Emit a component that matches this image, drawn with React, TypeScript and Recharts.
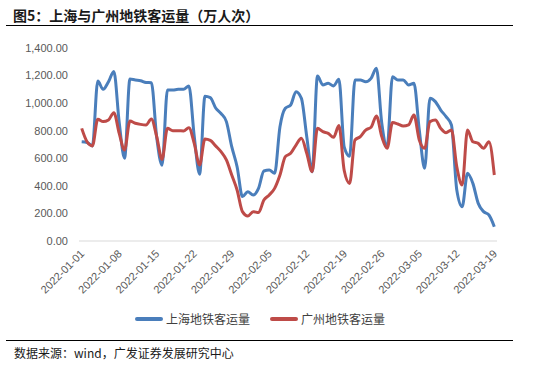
import React from 'react';
import { LineChart, Line, XAxis, YAxis } from 'recharts';

const dates = [
  '2022-01-01', '2022-01-02', '2022-01-03', '2022-01-04', '2022-01-05', '2022-01-06', '2022-01-07',
  '2022-01-08', '2022-01-09', '2022-01-10', '2022-01-11', '2022-01-12', '2022-01-13', '2022-01-14',
  '2022-01-15', '2022-01-16', '2022-01-17', '2022-01-18', '2022-01-19', '2022-01-20', '2022-01-21',
  '2022-01-22', '2022-01-23', '2022-01-24', '2022-01-25', '2022-01-26', '2022-01-27', '2022-01-28',
  '2022-01-29', '2022-01-30', '2022-01-31', '2022-02-01', '2022-02-02', '2022-02-03', '2022-02-04',
  '2022-02-05', '2022-02-06', '2022-02-07', '2022-02-08', '2022-02-09', '2022-02-10', '2022-02-11',
  '2022-02-12', '2022-02-13', '2022-02-14', '2022-02-15', '2022-02-16', '2022-02-17', '2022-02-18',
  '2022-02-19', '2022-02-20', '2022-02-21', '2022-02-22', '2022-02-23', '2022-02-24', '2022-02-25',
  '2022-02-26', '2022-02-27', '2022-02-28', '2022-03-01', '2022-03-02', '2022-03-03', '2022-03-04',
  '2022-03-05', '2022-03-06', '2022-03-07', '2022-03-08', '2022-03-09', '2022-03-10', '2022-03-11',
  '2022-03-12', '2022-03-13', '2022-03-14', '2022-03-15', '2022-03-16', '2022-03-17', '2022-03-18',
  '2022-03-19',
];

// 上海地铁客运量（万人次）
const shanghai = [
  720, 715, 690, 1160, 1100, 1155, 1230,
  860, 600, 1175, 1168, 1163, 1150, 1148,
  750, 550, 1095, 1095, 1100, 1100, 1125,
  760, 485, 1050, 1040, 965, 925, 866,
  684, 539, 322, 358, 334, 382, 508,
  515, 491, 829, 963, 987, 1083, 1035,
  757, 503, 1197, 1132, 1144, 1125, 1173,
  680, 615, 1168, 1168, 1156, 1180, 1253,
  854, 684, 1192, 1168, 1168, 1132, 1144,
  805, 527, 1035, 1011, 950, 902, 842,
  370, 249, 491, 418, 273, 213, 189,
  104,
];

// 广州地铁客运量（万人次）
const guangzhou = [
  817, 720, 690, 883, 866, 878, 931,
  781, 660, 870, 854, 846, 842, 885,
  757, 592, 817, 800, 800, 798, 822,
  708, 551, 740, 730, 690, 648, 588,
  479, 370, 213, 181, 213, 206, 297,
  334, 382, 479, 612, 636, 696, 745,
  636, 503, 817, 793, 781, 752, 837,
  510, 418, 733, 757, 805, 825, 907,
  757, 672, 859, 849, 834, 842, 914,
  733, 672, 866, 878, 817, 786, 805,
  539, 406, 805, 720, 708, 672, 720,
  479,
];

const tickDates = [
  '2022-01-01', '2022-01-08', '2022-01-15', '2022-01-22', '2022-01-29', '2022-02-05',
  '2022-02-12', '2022-02-19', '2022-02-26', '2022-03-05', '2022-03-12', '2022-03-19',
];
const yTicks = [0, 200, 400, 600, 800, 1000, 1200, 1400];

const data = dates.map((d, i) => ({ date: d, sh: shanghai[i], gz: guangzhou[i] }));

const BLUE = '#4A7EBB';
const RED = '#BE4B48';
const NUM_FONT = '"Liberation Sans", Arial, sans-serif';
const CJK_FONT = '"Noto Sans CJK SC", sans-serif';

const DateTick = ({ x, y, payload }: any) => (
  <g transform={`translate(${x - 2},${y})`}>
    <text
      x={0}
      y={0}
      dy="0.7em"
      textAnchor="end"
      transform="rotate(-45)"
      fill="#595959"
      fontSize={11}
      fontFamily={NUM_FONT}
    >
      {payload.value}
    </text>
  </g>
);

const fmt = (v: number) =>
  v.toLocaleString('en-US', { minimumFractionDigits: 2, maximumFractionDigits: 2 });

const LegendItem = ({ color, label, left }: { color: string; label: string; left: number }) => (
  <div style={{ position: 'absolute', left, top: 310, display: 'flex', alignItems: 'center' }}>
    <div style={{ width: 28, height: 4, background: color, borderRadius: 2, marginRight: 3 }} />
    <span style={{ fontSize: 12, fontFamily: CJK_FONT, color: '#404040' }}>{label}</span>
  </div>
);

export default function App() {
  return (
    <div
      style={{
        position: 'absolute',
        left: 0,
        top: 0,
        width: 535,
        height: 380,
        background: '#fff',
        overflow: 'hidden',
      }}
    >
      <div
        style={{
          position: 'absolute',
          left: 13,
          top: 5,
          fontSize: 14,
          fontWeight: 'bold',
          fontFamily: CJK_FONT,
          color: '#1a1a1a',
          whiteSpace: 'nowrap',
        }}
      >
        图5：上海与广州地铁客运量（万人次）
      </div>
      <div style={{ position: 'absolute', left: 6, top: 25, width: 507, height: 1, background: '#000' }} />

      <div style={{ position: 'absolute', left: 0, top: 0 }}>
        <LineChart
          width={535}
          height={380}
          data={data}
          margin={{ top: 48, right: 38, bottom: 79, left: 19 }}
        >
          <XAxis
            dataKey="date"
            ticks={tickDates}
            interval={0}
            tick={<DateTick />}
            tickLine={false}
            axisLine={{ stroke: '#D9D9D9' }}
            padding={{ left: 2.7, right: 2.7 }}
            height={60}
          />
          <YAxis
            width={60}
            domain={[0, 1400]}
            ticks={yTicks}
            tickFormatter={fmt}
            axisLine={false}
            tickLine={false}
            tickMargin={5}
            tick={{ fill: '#595959', fontSize: 11, fontFamily: NUM_FONT }}
          />
          <Line
            type="monotone"
            dataKey="sh"
            stroke={BLUE}
            strokeWidth={3}
            dot={false}
            isAnimationActive={false}
          />
          <Line
            type="monotone"
            dataKey="gz"
            stroke={RED}
            strokeWidth={3}
            dot={false}
            isAnimationActive={false}
          />
        </LineChart>
      </div>

      <LegendItem color={BLUE} label="上海地铁客运量" left={135} />
      <LegendItem color={RED} label="广州地铁客运量" left={270} />

      <div style={{ position: 'absolute', left: 6, top: 340, width: 507, height: 1, background: '#000' }} />
      <div
        style={{
          position: 'absolute',
          left: 14,
          top: 344,
          fontSize: 12,
          fontFamily: CJK_FONT,
          color: '#1a1a1a',
          whiteSpace: 'nowrap',
        }}
      >
        数据来源：wind，广发证券发展研究中心
      </div>
    </div>
  );
}
